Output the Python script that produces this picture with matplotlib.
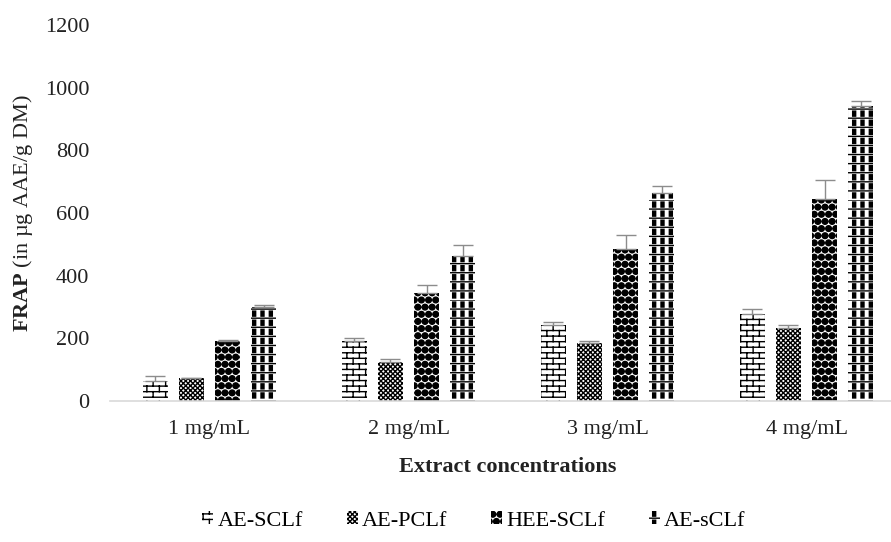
import numpy as np
import matplotlib
matplotlib.use('Agg')
import matplotlib.pyplot as plt
from matplotlib import hatch as mhatch
from matplotlib.path import Path

concentrations = ['1 mg/mL', '2 mg/mL', '3 mg/mL', '4 mg/mL']
extracts = ['AE-SCLf', 'AE-PCLf', 'HEE-SCLf', 'AE-sCLf']

ae_sclf = [63, 192, 242, 277]
ae_pclf = [73, 126, 185, 233]
hee_sclf = [192, 346, 486, 644]
ae_sclf2 = [301, 462, 663, 943]

ae_sclf_err = [17, 8, 10, 16]
ae_pclf_err = [2, 8, 6, 8]
hee_sclf_err = [2, 24, 45, 62]
ae_sclf2_err = [4, 35, 23, 16]


# --- custom fill patterns (brick, big dots, block grid) ---
class BrickHatch(mhatch.HatchPatternBase):
    rows, cols = 18, 8

    def __init__(self, hatch, density):
        self.on = 'b' in hatch
        self.num_vertices = (self.rows + self.rows * self.cols) * 2 if self.on else 0

    def set_vertices_and_codes(self, vertices, codes):
        segs = []
        for i in range(self.rows):
            y0 = (i + 0.5) / self.rows
            y1 = (i + 1.5) / self.rows
            segs.append([(0, y0), (1, y0)])
            off = (0.25 + 0.5 * (i % 2)) / self.cols
            for k in range(self.cols):
                x = k / self.cols + off
                segs.append([(x, y0), (x, y1)])
        vertices[:] = np.array(segs).reshape(-1, 2)
        codes[0::2] = Path.MOVETO
        codes[1::2] = Path.LINETO


class BigDots(mhatch.Circles):
    size = 0.40
    filled = True

    def __init__(self, hatch, density):
        self.num_rows = 14 if '@' in hatch else 0
        super().__init__(hatch, density)


class BlockGrid(mhatch.HatchPatternBase):
    rows, cols = 11, 12
    w, h = 0.03, 0.05

    def __init__(self, hatch, density):
        self.on = 'k' in hatch
        self.num_vertices = (self.rows * self.cols * 5 + self.rows * 2) if self.on else 0

    def set_vertices_and_codes(self, vertices, codes):
        v, c = [], []
        for i in range(self.rows):
            yc = (i + 0.5) / self.rows
            for k in range(self.cols):
                xc = (k + 0.5) / self.cols
                x0, x1 = xc - self.w / 2, xc + self.w / 2
                y0, y1 = yc - self.h / 2, yc + self.h / 2
                v += [(x0, y0), (x1, y0), (x1, y1), (x0, y1), (x0, y0)]
                c += [Path.MOVETO, Path.LINETO, Path.LINETO, Path.LINETO, Path.CLOSEPOLY]
            yl = (i + 1) / self.rows
            v += [(0, yl), (1, yl)]
            c += [Path.MOVETO, Path.LINETO]
        vertices[:] = v
        codes[:] = c


mhatch._hatch_types.extend([BrickHatch, BigDots, BlockGrid])

plt.rcParams['font.family'] = ['Liberation Serif', 'DejaVu Serif']
plt.rcParams['mathtext.fontset'] = 'custom'
plt.rcParams['mathtext.rm'] = 'Liberation Serif'
plt.rcParams['mathtext.bf'] = 'Liberation Serif:bold'
plt.rcParams['hatch.linewidth'] = 1.0

fig = plt.figure(figsize=(8.91, 5.42), dpi=100)
ax = fig.add_axes([110 / 891, 141 / 542, 796 / 891, 376 / 542])

series = [ae_sclf, ae_pclf, hee_sclf, ae_sclf2]
errors = [ae_sclf_err, ae_pclf_err, hee_sclf_err, ae_sclf2_err]
hatches = ['b', 'xxxxxxx', '@', 'k']
x = np.arange(len(concentrations))
step = 0.181
width = 0.126

for i, (vals, err, h, name) in enumerate(zip(series, errors, hatches, extracts)):
    pos = x + (i - 1.5) * step
    ax.bar(pos, vals, width, color='white', edgecolor='black', linewidth=0,
           hatch=h, label=name)
    ax.errorbar(pos, vals, yerr=[np.zeros(len(err)), err], fmt='none',
                ecolor='#8c8c8c', elinewidth=1, capsize=7, capthick=1)

ax.set_xlim(-0.5, 3.5)
ax.set_ylim(0, 1200)
ax.set_yticks(range(0, 1201, 200))
ax.set_xticks(x)
ax.set_xticklabels(concentrations)
ax.tick_params(axis='both', length=0, labelsize=16, colors='#222222')
ax.tick_params(axis='y', pad=15)
ax.tick_params(axis='x', pad=14)
for s in ['top', 'right', 'left']:
    ax.spines[s].set_visible(False)
ax.spines['bottom'].set_color('#d9d9d9')
ax.spines['bottom'].set_linewidth(1.2)

ax.set_xlabel('Extract concentrations', fontsize=16, fontweight='bold', labelpad=13,
              color='#222222')
ax.set_ylabel(r'$\mathbf{FRAP}$ (in µg AAE/g DM)', fontsize=16, labelpad=7,
              color='#222222')

fig.legend(loc='center', bbox_to_anchor=(474 / 891, 1 - 521 / 542), ncol=4,
           frameon=False, fontsize=16, handlelength=0.5, handleheight=0.5,
           handletextpad=0.2, columnspacing=1.95)

fig.savefig('out.png', dpi=100)
